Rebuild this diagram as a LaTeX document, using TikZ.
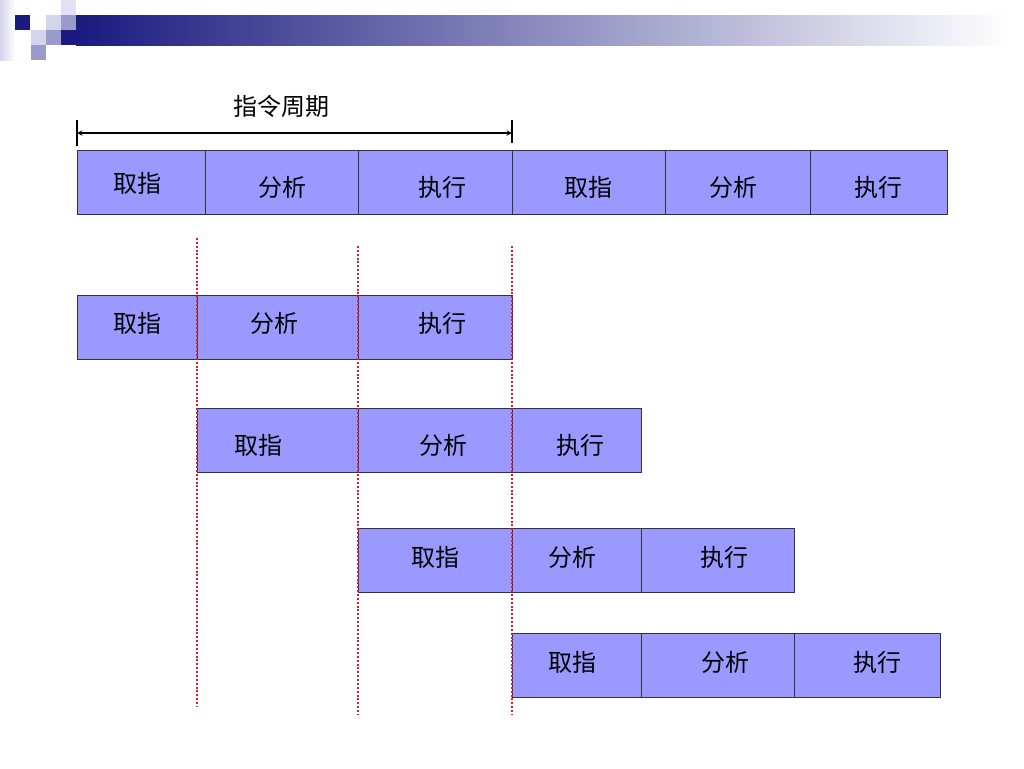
\documentclass[tikz,border=0pt]{standalone}
\usepackage{fontspec}
\newfontfamily\cjk{Noto Sans CJK SC}
\usepackage{tikz}
\usetikzlibrary{arrows}

\definecolor{cellblue}{HTML}{9999FF}
\definecolor{navy}{HTML}{1A1A80}
\definecolor{barmid}{HTML}{A0A0BC}
\definecolor{lavlight}{HTML}{D4D4EC}
\definecolor{lavmid}{HTML}{9A9ACC}
\definecolor{dotred}{HTML}{E01A28}

% one stage box: name, left, right, top, text x, text y, text
\newcommand{\stagebox}[7]{%
  \node[cell, minimum width={(#3-#2)*0.75pt}] (#1) at (#2,#4) {};
  \node[txt] (#1t) at (#5,#6) {#7};}

\begin{document}
\begin{tikzpicture}[
  x=0.75pt, y=-0.75pt,
  cell/.style={draw=black!80, fill=cellblue, line width=0.7pt, inner sep=0pt,
    anchor=north west, minimum height=48pt},
  txt/.style={font=\cjk\fontsize{18}{20}\selectfont, inner sep=0pt},
  guide/.style={draw=dotred, line width=1.6pt, dash pattern=on 1.5pt off 1.4pt}
]
\useasboundingbox[fill=white] (0,0) rectangle (1024,768);

% title bar of the slide
\shade[left color=lavlight, right color=white] (0,0) rectangle (15,60);
\shade[left color=navy, middle color=barmid, right color=white] (76,15) rectangle (1010,45);
\fill[navy] (15,15) rectangle (30,30);
\fill[navy] (61,30) rectangle (76,45);
\fill[lavlight] (46,15) rectangle (61,30);
\fill[lavlight!70] (61,0) rectangle (76,15);
\fill[lavmid] (61,15) rectangle (76,30);
\fill[lavlight] (31,30) rectangle (46,45);
\fill[lavmid] (46,30) rectangle (61,45);
\fill[lavmid] (31,45) rectangle (46,60);

% instruction cycle
\node[txt] (cyc) at (281,106) {指令周期};
\coordinate (cs) at (77,133);
\coordinate (ce) at (512,133);
\draw[<->, >=stealth, line width=0.8pt] (cs) -- (ce);
\draw[line width=0.8pt] (77,120) -- (77,146);
\draw[line width=0.8pt] (512,120) -- (512,143);

% sequential
\stagebox{f0}{77}{205}{150}{137}{183}{取指}
\stagebox{d0}{205}{358}{150}{282}{187}{分析}
\stagebox{x0}{358}{512}{150}{442}{187}{执行}
\stagebox{f00}{512}{665}{150}{588}{187}{取指}
\stagebox{d00}{665}{810}{150}{733}{187}{分析}
\stagebox{x00}{810}{947}{150}{878}{187}{执行}

% overlapped
\stagebox{f1}{77}{197}{295}{137}{323}{取指}
\stagebox{d1}{197}{358}{295}{274}{323}{分析}
\stagebox{x1}{358}{512}{295}{442}{323}{执行}

\stagebox{f2}{197}{358}{408}{258}{445}{取指}
\stagebox{d2}{358}{512}{408}{443}{445}{分析}
\stagebox{x2}{512}{641}{408}{580}{445}{执行}

\stagebox{f3}{358}{512}{528}{435}{557}{取指}
\stagebox{d3}{512}{641}{528}{572}{557}{分析}
\stagebox{x3}{641}{794}{528}{724}{557}{执行}

\stagebox{f4}{512}{641}{633}{572}{662}{取指}
\stagebox{d4}{641}{794}{633}{725}{662}{分析}
\stagebox{x4}{794}{940}{633}{877}{662}{执行}

% time marks
\foreach \x/\a/\b in {197/238/706, 358/246/714, 512/246/714}
  \draw[guide] (\x,\a) -- (\x,\b);
\end{tikzpicture}
\end{document}
